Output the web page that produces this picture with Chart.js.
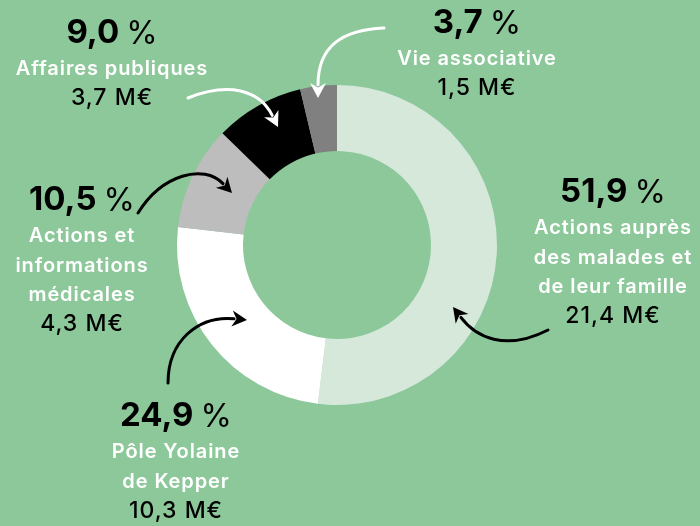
<!DOCTYPE html>
<html><head><meta charset="utf-8">
<script src="https://cdn.jsdelivr.net/npm/chart.js@4"></script>
<style>html,body{margin:0;padding:0;background:#8dc89a;}#wrap{width:700px;height:526px;position:relative;}</style>
</head><body><div id="wrap"><canvas id="c" width="700" height="526"></canvas></div>
<script>
const categories = ['Actions auprès des malades et de leur famille','Pôle Yolaine de Kepper','Actions et informations médicales','Affaires publiques','Vie associative'];
const percentLabels = ['51,9','24,9','10,5','9,0','3,7'];
const percents = [51.9, 24.9, 10.5, 9.0, 3.7];
const amountLabels = ['21,4 M€','10,3 M€','4,3 M€','3,7 M€','1,5 M€'];
const labelLines = [['Actions auprès','des malades et','de leur famille'],['Pôle Yolaine','de Kepper'],['Actions et','informations','médicales'],['Affaires publiques'],['Vie associative']];
const sliceColors = ['#d6e8da','#ffffff','#bdbdbd','#000000','#808080'];

const BG = '#8dc89a';
const FONT = 'Inter, "DejaVu Sans", sans-serif';
// label anchor (center x, y of percentage line) and arrow geometry
const labelPos = [[613,192],[176,416],[82,200],[112,33],[477,23]];
const arrows = [
  {c:'#000', p:[[548,330],[505,352],[472,332],[453,307]]},
  {c:'#000', p:[[168,383],[168,340],[205,316],[247,320]]},
  {c:'#000', p:[[138,213],[162,174],[208,168],[232,193]]},
  {c:'#fff', p:[[188,98],[228,82],[262,95],[278,127]]},
  {c:'#fff', p:[[384,28],[342,30],[318,52],[318,98]]}
];

const bgPlugin = {id:'bg', beforeDraw(chart){const ctx=chart.ctx;ctx.save();ctx.fillStyle=BG;ctx.fillRect(0,0,chart.width,chart.height);ctx.restore();}};

function drawArrow(ctx, a){
  const [p0,p1,p2,p3]=a.p;
  const ang=Math.atan2(p3[1]-p2[1],p3[0]-p2[0]);
  const L=15, W=8;
  const bx=p3[0]-Math.cos(ang)*(L-2), by=p3[1]-Math.sin(ang)*(L-2);
  ctx.save();
  ctx.strokeStyle=a.c; ctx.fillStyle=a.c; ctx.lineWidth=3; ctx.lineCap='round';
  ctx.beginPath(); ctx.moveTo(p0[0],p0[1]);
  ctx.bezierCurveTo(p1[0],p1[1],p2[0]-Math.cos(ang)*6,p2[1]-Math.sin(ang)*6,bx,by);
  ctx.stroke();
  ctx.beginPath();
  ctx.moveTo(p3[0],p3[1]);
  ctx.lineTo(p3[0]-Math.cos(ang)*L+Math.sin(ang)*W, p3[1]-Math.sin(ang)*L-Math.cos(ang)*W);
  ctx.lineTo(p3[0]-Math.cos(ang)*L*0.7, p3[1]-Math.sin(ang)*L*0.7);
  ctx.lineTo(p3[0]-Math.cos(ang)*L-Math.sin(ang)*W, p3[1]-Math.sin(ang)*L+Math.cos(ang)*W);
  ctx.closePath(); ctx.fill();
  ctx.restore();
}

function spaced(ctx, px){ if ('letterSpacing' in ctx) ctx.letterSpacing = px + 'px'; }

const labelPlugin = {id:'labels', afterDraw(chart){
  const ctx=chart.ctx;
  ctx.save();
  arrows.forEach(a=>drawArrow(ctx,a));
  ctx.textBaseline='middle';
  categories.forEach((cat,i)=>{
    const [x,y]=labelPos[i];
    const num=percentLabels[i], pc='%', gap=7;
    spaced(ctx,0);
    ctx.font='700 33px '+FONT; const w1=ctx.measureText(num).width;
    ctx.font='400 32px '+FONT; const w2=ctx.measureText(pc).width;
    let sx=x-(w1+gap+w2)/2;
    ctx.fillStyle='#000'; ctx.textAlign='left';
    ctx.font='700 33px '+FONT; ctx.fillText(num,sx,y);
    ctx.font='400 32px '+FONT; ctx.fillText(pc,sx+w1+gap,y+1);
    ctx.textAlign='center';
    let ly=y+36;
    ctx.fillStyle='#fff'; ctx.font='600 20px '+FONT; spaced(ctx,0.9);
    labelLines[i].forEach(t=>{ctx.fillText(t,x,ly); ly+=29.5;});
    ctx.fillStyle='#000'; ctx.font='500 23px '+FONT; spaced(ctx,1);
    ctx.fillText(amountLabels[i],x,ly);
    spaced(ctx,0);
  });
  ctx.restore();
}};

new Chart(document.getElementById('c'),{
  type:'doughnut',
  data:{labels:categories,datasets:[{data:percents,backgroundColor:sliceColors,borderWidth:0,hoverOffset:0}]},
  options:{
    responsive:false, animation:false, cutout:'58.75%', rotation:0,
    layout:{padding:{left:177,right:203,top:85,bottom:121}},
    plugins:{legend:{display:false},tooltip:{enabled:false}}
  },
  plugins:[bgPlugin,labelPlugin]
});
</script></body></html>
